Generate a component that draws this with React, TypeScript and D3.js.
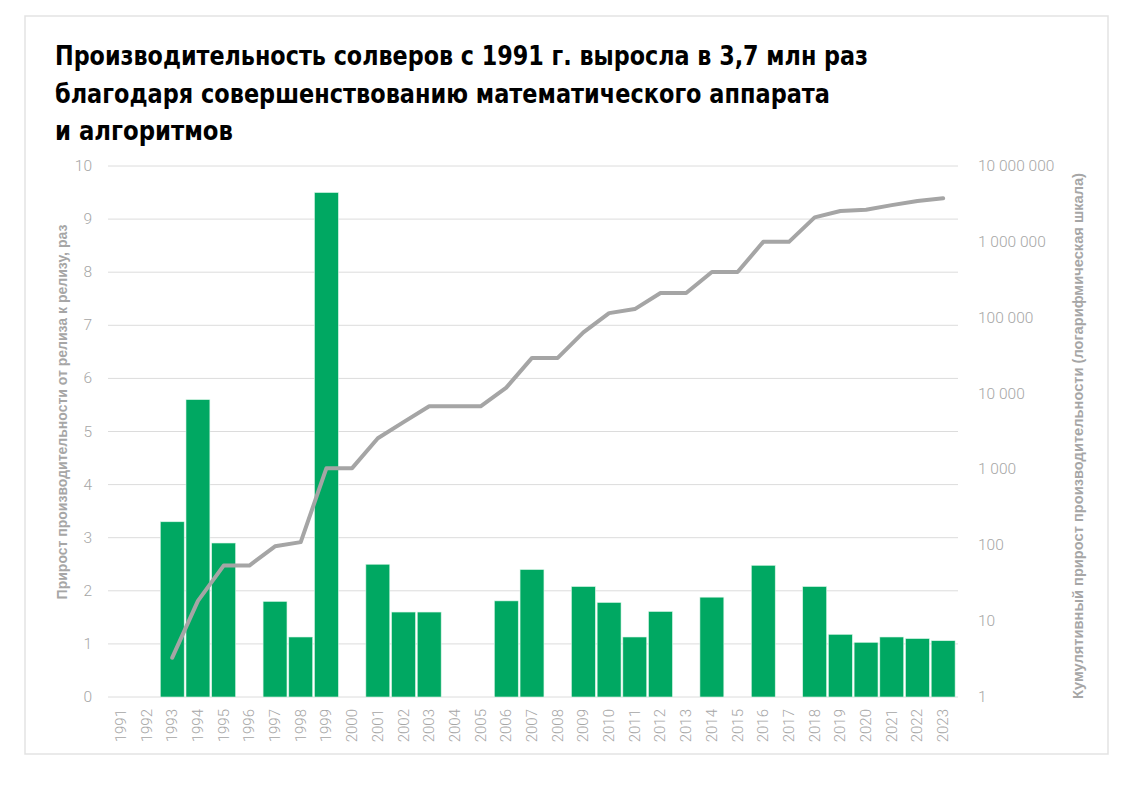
import React from "react";
import * as d3 from "d3";

const years: string[] = d3.range(1991, 2024).map(String);

// Year-over-year speedup (left axis), null = no release
const releaseGain: (number | null)[] = [
  null, null, 3.3, 5.6, 2.9, null, 1.8, 1.13, 9.5, null,
  2.5, 1.6, 1.6, null, null, 1.81, 2.4, null, 2.08, 1.78,
  1.13, 1.61, null, 1.88, null, 2.48, null, 2.08, 1.18, 1.03,
  1.13, 1.1, 1.06,
];

// Cumulative speedup (right log axis)
const cumulative: (number | null)[] = [
  null, null, 3.3, 18.5, 54, 54, 97, 110, 1040, 1040,
  2580, 4200, 6800, 6800, 6800, 12000, 29500, 29500, 64000, 115000,
  130000, 212000, 212000, 400000, 400000, 1000000, 1000000, 2100000, 2550000, 2650000,
  3050000, 3450000, 3750000,
];

const leftTicks: number[] = d3.range(0, 11);
const rightTicks: number[] = [1, 10, 100, 1000, 10000, 100000, 1000000, 10000000];

const titleLines: string[] = [
  "Производительность солверов с 1991 г. выросла в 3,7 млн раз",
  "благодаря совершенствованию математического аппарата",
  "и алгоритмов",
];
const leftTitle = "Прирост производительности от релиза к релизу, раз";
const rightTitle = "Кумулятивный прирост производительности (логарифмическая шкала)";

const W = 1124;
const H = 790;
const plotL = 108;
const plotR = 956;
const plotT = 166;
const plotB = 697;

const GREEN = "#00a862";
const GRAY_TXT = "#a6a6a6";
const LINE = "#a5a5a5";
const GRID = "#dcdcdc";

const ruFmt = d3.formatLocale({ decimal: ",", thousands: "\u00a0", grouping: [3], currency: ["", ""] }).format(",");

export default function App() {
  const x = d3.scaleBand<string>().domain(years).range([plotL, plotR]).paddingInner(0.07).paddingOuter(0.035);
  const yL = d3.scaleLinear().domain([0, 10]).range([plotB, plotT]);
  const yR = d3.scaleLog().domain([1, 1e7]).range([plotB, plotT]);

  const lineData = years
    .map((yr, i) => ({ yr, v: cumulative[i] }))
    .filter((d) => d.v != null) as { yr: string; v: number }[];
  const linePath = d3
    .line<{ yr: string; v: number }>()
    .x((d) => (x(d.yr) as number) + x.bandwidth() / 2)
    .y((d) => yR(d.v))(lineData);

  const titleWidths = [813, 775, 178];
  const titleY = [65, 103, 140];

  return (
    <svg width={W} height={H} style={{ position: "absolute", left: 0, top: 0, background: "#fff" }}>
      <rect x={25} y={16} width={1083} height={738} fill="#fff" stroke="#e3e3e3" strokeWidth={1.5} />

      {titleLines.map((t, i) => (
        <text
          key={i}
          x={55}
          y={titleY[i]}
          fontFamily="'Liberation Sans Narrow', 'DejaVu Sans Condensed', 'Open Sans', sans-serif"
          fontWeight="bold"
          fontSize={26}
          fill="#000"
          textLength={titleWidths[i]}
          lengthAdjust="spacingAndGlyphs"
        >
          {t}
        </text>
      ))}

      {/* gridlines */}
      {leftTicks.map((t) => (
        <line key={t} x1={plotL} x2={plotR + 2} y1={yL(t)} y2={yL(t)} stroke={GRID} strokeWidth={1} />
      ))}

      {/* left tick labels */}
      {leftTicks.map((t) => (
        <text
          key={"l" + t}
          x={92}
          y={yL(t)}
          textAnchor="end"
          dominantBaseline="central"
          fontFamily="Roboto, 'Open Sans', sans-serif"
          fontWeight={300}
          fontSize={15.5}
          fill={GRAY_TXT}
        >
          {t}
        </text>
      ))}

      {/* right tick labels */}
      {rightTicks.map((t) => (
        <text
          key={"r" + t}
          x={978}
          y={yR(t)}
          textAnchor="start"
          dominantBaseline="central"
          fontFamily="Roboto, 'Open Sans', sans-serif"
          fontWeight={300}
          fontSize={15.5}
          fill={GRAY_TXT}
        >
          {ruFmt(t)}
        </text>
      ))}

      {/* bars */}
      {years.map((yr, i) => {
        const v = releaseGain[i];
        if (v == null) return null;
        return (
          <rect
            key={yr}
            x={x(yr)}
            y={yL(v)}
            width={x.bandwidth()}
            height={plotB - yL(v)}
            fill={GREEN}
            stroke="#d8f5e6"
            strokeWidth={0.6}
          />
        );
      })}

      {/* cumulative line */}
      <path d={linePath || ""} fill="none" stroke={LINE} strokeWidth={4} strokeLinejoin="round" strokeLinecap="round" />

      {/* x labels */}
      {years.map((yr) => (
        <text
          key={"x" + yr}
          transform={`translate(${(x(yr) as number) + x.bandwidth() / 2},709) rotate(-90)`}
          textAnchor="end"
          dominantBaseline="central"
          fontFamily="Roboto, 'Open Sans', sans-serif"
          fontWeight={300}
          fontSize={15}
          fill={GRAY_TXT}
        >
          {yr}
        </text>
      ))}

      {/* axis titles */}
      <text
        transform={`translate(62,412) rotate(-90)`}
        textAnchor="middle"
        dominantBaseline="central"
        fontFamily="'Liberation Sans', Arial, sans-serif"
        fontWeight="bold"
        fontSize={14}
        fill={GRAY_TXT}
      >
        {leftTitle}
      </text>
      <text
        transform={`translate(1078,436) rotate(-90)`}
        textAnchor="middle"
        dominantBaseline="central"
        fontFamily="'Liberation Sans', Arial, sans-serif"
        fontWeight="bold"
        fontSize={14}
        fill={GRAY_TXT}
        textLength={526}
        lengthAdjust="spacingAndGlyphs"
      >
        {rightTitle}
      </text>
    </svg>
  );
}
